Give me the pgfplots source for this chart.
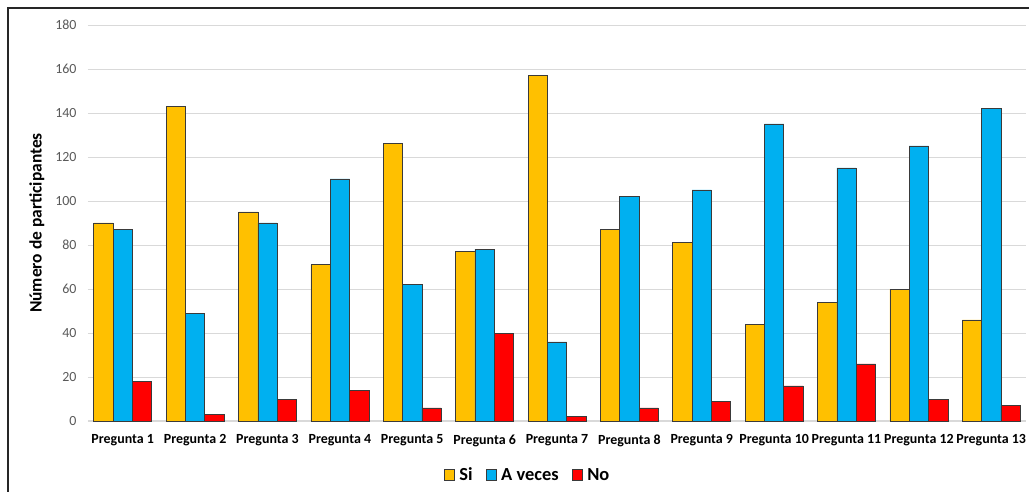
\documentclass[border=0pt]{standalone}
\usepackage{pgfplots}
\pgfplotsset{compat=1.18}
\usepackage{fontspec}
\setmainfont{Carlito}
\definecolor{cSi}{HTML}{FFC000}
\definecolor{cAv}{HTML}{00B0F0}
\definecolor{cNo}{HTML}{FF0000}
\definecolor{gridc}{HTML}{D9D9D9}
\definecolor{tickc}{HTML}{595959}
\definecolor{barline}{HTML}{3A3A3A}
\begin{document}
\begin{tikzpicture}
\begin{axis}[
  at={(0,0)}, anchor=south west,
  scale only axis, width=938bp, height=396bp,
  ymin=0, ymax=180, ytick={0,20,...,180},
  xmin=-0.48, xmax=12.48, xtick={0,...,12},
  xticklabels={Pregunta 1,Pregunta 2,Pregunta 3,Pregunta 4,Pregunta 5,Pregunta 6,Pregunta 7,Pregunta 8,Pregunta 9,Pregunta 10,Pregunta 11,Pregunta 12,Pregunta 13},
  ybar=0pt, bar width=0.267,
  axis x line*=bottom, axis y line*=left,
  y axis line style={draw=none},
  x axis line style={draw=gridc, line width=1.2bp, -},
  tick style={draw=none}, major tick length=0pt,
  ymajorgrids, grid style={draw=gridc, line width=0.9bp},
  /pgf/number format/assume math mode=true,
  yticklabel style={font=\fontsize{14}{17}\selectfont, color=tickc, xshift=-8bp},
  xticklabel style={font=\bfseries\fontsize{14}{17}\selectfont, color=black, yshift=-10bp},
  ylabel={Número de participantes},
  every axis y label/.style={at={(axis description cs:-0.0544,0.5)}, rotate=90, anchor=center, font=\bfseries\fontsize{17.5}{20}\selectfont},
  legend style={draw=none, at={(axis description cs:0.4686,-0.137)}, anchor=center,
    legend columns=-1, font=\bfseries\fontsize{18.5}{22}\selectfont,
    nodes={inner sep=2bp},
    /tikz/every even column/.append style={column sep=11bp}},
  legend image code/.code={\draw[#1] (0bp,-5.5bp) rectangle (10bp,5.5bp); \path (13bp,0bp);},
]
\addplot[fill=cSi, draw=barline, line width=0.6bp] coordinates {(0,90) (1,143) (2,95) (3,71) (4,126) (5,77) (6,157) (7,87) (8,81) (9,44) (10,54) (11,60) (12,46)};
\addplot[fill=cAv, draw=barline, line width=0.6bp] coordinates {(0,87) (1,49) (2,90) (3,110) (4,62) (5,78) (6,36) (7,102) (8,105) (9,135) (10,115) (11,125) (12,142)};
\addplot[fill=cNo, draw=barline, line width=0.6bp] coordinates {(0,18) (1,3) (2,10) (3,14) (4,6) (5,40) (6,2) (7,6) (8,9) (9,16) (10,26) (11,10) (12,7)};
\legend{Si, A veces, No}
\end{axis}
\draw[line width=1.4bp, color=black!85] (-80bp,-120bp) -- (-80bp,413bp) -- (1000bp,413bp);
\pgfresetboundingbox
\useasboundingbox (-88bp,-71bp) rectangle (941bp,421bp);
\end{tikzpicture}
\end{document}
